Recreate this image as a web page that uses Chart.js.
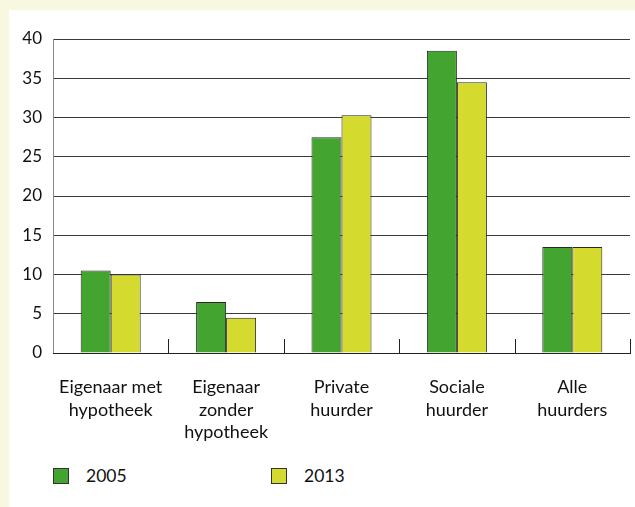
<!DOCTYPE html>
<html>
<head>
<meta charset="utf-8">
<script src="https://cdn.jsdelivr.net/npm/chart.js@4/dist/chart.umd.min.js"></script>
<style>
  html, body { margin: 0; padding: 0; }
  body { width: 635px; height: 507px; background: #f8f7df; position: relative; overflow: hidden; font-family: Lato, "Open Sans", sans-serif; }
  #panel { position: absolute; left: 9px; top: 10px; width: 626px; height: 497px; background: #fff; }
  #wrap { position: absolute; left: 0; top: 0; width: 626px; height: 440px; }
  #legend { position: absolute; left: 44px; top: 455px; display: flex; font-size: 17.5px; color: #111; }
  .item { display: flex; align-items: center; width: 218px; }
  .box { width: 14px; height: 14px; border: 1px solid #333; margin-right: 17px; }
</style>
</head>
<body>
<div id="panel">
  <div id="wrap"><canvas id="chart"></canvas></div>
  <div id="legend"></div>
</div>
<script>
// data
const categories = [
  ['Eigenaar met', 'hypotheek'],
  ['Eigenaar', 'zonder', 'hypotheek'],
  ['Private', 'huurder'],
  ['Sociale', 'huurder'],
  ['Alle', 'huurders']
];
const values2005 = [10.5, 6.5, 27.5, 38.5, 13.5];
const values2013 = [10, 4.5, 30.3, 34.5, 13.5];
const seriesNames = ['2005', '2013'];
const seriesColors = ['#43a52f', '#d5da2e'];
const yTicks = [0, 5, 10, 15, 20, 25, 30, 35, 40];

// short tick marks between categories, pointing up into the plot
const innerTicks = {
  id: 'innerTicks',
  beforeDatasetsDraw(chart) {
    const x = chart.scales.x;
    const bottom = chart.chartArea.bottom;
    const half = (x.getPixelForValue(1) - x.getPixelForValue(0)) / 2;
    const ctx = chart.ctx;
    ctx.save();
    ctx.strokeStyle = '#222';
    ctx.lineWidth = 1;
    ctx.beginPath();
    for (let i = 0; i < categories.length; i++) {
      const px = Math.round(x.getPixelForValue(i) + half) + 0.5;
      ctx.moveTo(px, bottom);
      ctx.lineTo(px, bottom - 14);
    }
    ctx.stroke();
    ctx.restore();
  }
};

const datasets = [values2005, values2013].map((vals, i) => ({
  label: seriesNames[i],
  data: vals,
  backgroundColor: seriesColors[i],
  borderColor: '#2a2a2a',
  borderWidth: 1,
  categoryPercentage: 0.52,
  barPercentage: 1
}));

new Chart(document.getElementById('chart'), {
  type: 'bar',
  data: { labels: categories, datasets: datasets },
  options: {
    responsive: true,
    maintainAspectRatio: false,
    animation: false,
    layout: { padding: { top: 29, right: 5, left: 0, bottom: 0 } },
    plugins: { legend: { display: false }, tooltip: { enabled: false } },
    scales: {
      y: {
        min: 0,
        max: 40,
        afterBuildTicks(scale) { scale.ticks = yTicks.map(v => ({ value: v })); },
        afterFit(scale) { scale.width = 44; },
        ticks: { font: { family: 'Lato', size: 17 }, color: '#111', padding: 11 },
        grid: { color: '#3a3a3a', lineWidth: 1, drawTicks: false },
        border: { color: '#888', width: 1 }
      },
      x: {
        afterFit(scale) { scale.height = 97; },
        ticks: { font: { family: 'Lato', size: 18, lineHeight: 1.25 }, color: '#111', padding: 15, maxRotation: 0, autoSkip: false },
        grid: { display: false },
        border: { color: '#222', width: 1 }
      }
    }
  },
  plugins: [innerTicks]
});

// legend
const legend = document.getElementById('legend');
seriesNames.forEach((name, i) => {
  const item = document.createElement('div');
  item.className = 'item';
  const box = document.createElement('span');
  box.className = 'box';
  box.style.background = seriesColors[i];
  const txt = document.createElement('span');
  txt.textContent = name;
  item.appendChild(box);
  item.appendChild(txt);
  legend.appendChild(item);
});
</script>
</body>
</html>
